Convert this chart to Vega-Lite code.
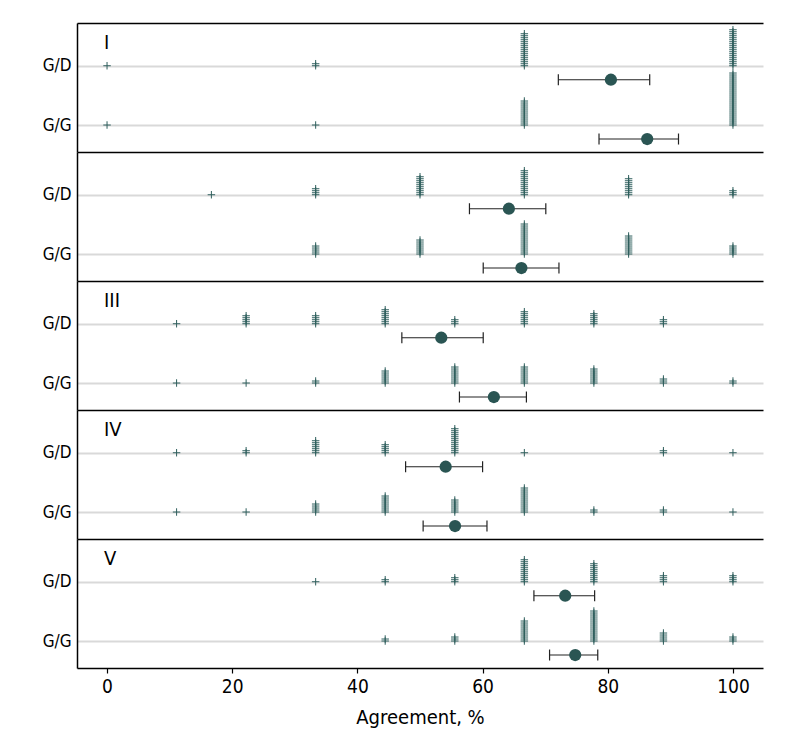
{
"$schema":"https://vega.github.io/schema/vega-lite/v6.json",
"padding":{"left":5,"top":23,"right":5,"bottom":5},
"spacing":0,
"config":{"view":{"stroke":null},"font":"DejaVu Sans Condensed"},
"datasets":{
"obs":[
{"panel":"I","rater":"G/D","agr":0},
{"panel":"I","rater":"G/D","agr":33.33},{"panel":"I","rater":"G/D","agr":33.33},
{"panel":"I","rater":"G/D","agr":66.67},{"panel":"I","rater":"G/D","agr":66.67},{"panel":"I","rater":"G/D","agr":66.67},{"panel":"I","rater":"G/D","agr":66.67},{"panel":"I","rater":"G/D","agr":66.67},{"panel":"I","rater":"G/D","agr":66.67},{"panel":"I","rater":"G/D","agr":66.67},{"panel":"I","rater":"G/D","agr":66.67},{"panel":"I","rater":"G/D","agr":66.67},{"panel":"I","rater":"G/D","agr":66.67},{"panel":"I","rater":"G/D","agr":66.67},{"panel":"I","rater":"G/D","agr":66.67},{"panel":"I","rater":"G/D","agr":66.67},{"panel":"I","rater":"G/D","agr":66.67},{"panel":"I","rater":"G/D","agr":66.67},{"panel":"I","rater":"G/D","agr":66.67},{"panel":"I","rater":"G/D","agr":66.67},
{"panel":"I","rater":"G/D","agr":100},{"panel":"I","rater":"G/D","agr":100},{"panel":"I","rater":"G/D","agr":100},{"panel":"I","rater":"G/D","agr":100},{"panel":"I","rater":"G/D","agr":100},{"panel":"I","rater":"G/D","agr":100},{"panel":"I","rater":"G/D","agr":100},{"panel":"I","rater":"G/D","agr":100},{"panel":"I","rater":"G/D","agr":100},{"panel":"I","rater":"G/D","agr":100},{"panel":"I","rater":"G/D","agr":100},{"panel":"I","rater":"G/D","agr":100},{"panel":"I","rater":"G/D","agr":100},{"panel":"I","rater":"G/D","agr":100},{"panel":"I","rater":"G/D","agr":100},{"panel":"I","rater":"G/D","agr":100},{"panel":"I","rater":"G/D","agr":100},{"panel":"I","rater":"G/D","agr":100},{"panel":"I","rater":"G/D","agr":100},
{"panel":"I","rater":"G/G","agr":0},
{"panel":"I","rater":"G/G","agr":33.33},
{"panel":"I","rater":"G/G","agr":66.67},{"panel":"I","rater":"G/G","agr":66.67},{"panel":"I","rater":"G/G","agr":66.67},{"panel":"I","rater":"G/G","agr":66.67},{"panel":"I","rater":"G/G","agr":66.67},{"panel":"I","rater":"G/G","agr":66.67},{"panel":"I","rater":"G/G","agr":66.67},{"panel":"I","rater":"G/G","agr":66.67},{"panel":"I","rater":"G/G","agr":66.67},{"panel":"I","rater":"G/G","agr":66.67},{"panel":"I","rater":"G/G","agr":66.67},{"panel":"I","rater":"G/G","agr":66.67},{"panel":"I","rater":"G/G","agr":66.67},
{"panel":"I","rater":"G/G","agr":100},{"panel":"I","rater":"G/G","agr":100},{"panel":"I","rater":"G/G","agr":100},{"panel":"I","rater":"G/G","agr":100},{"panel":"I","rater":"G/G","agr":100},{"panel":"I","rater":"G/G","agr":100},{"panel":"I","rater":"G/G","agr":100},{"panel":"I","rater":"G/G","agr":100},{"panel":"I","rater":"G/G","agr":100},{"panel":"I","rater":"G/G","agr":100},{"panel":"I","rater":"G/G","agr":100},{"panel":"I","rater":"G/G","agr":100},{"panel":"I","rater":"G/G","agr":100},{"panel":"I","rater":"G/G","agr":100},{"panel":"I","rater":"G/G","agr":100},{"panel":"I","rater":"G/G","agr":100},{"panel":"I","rater":"G/G","agr":100},{"panel":"I","rater":"G/G","agr":100},{"panel":"I","rater":"G/G","agr":100},{"panel":"I","rater":"G/G","agr":100},{"panel":"I","rater":"G/G","agr":100},{"panel":"I","rater":"G/G","agr":100},{"panel":"I","rater":"G/G","agr":100},{"panel":"I","rater":"G/G","agr":100},{"panel":"I","rater":"G/G","agr":100},{"panel":"I","rater":"G/G","agr":100},{"panel":"I","rater":"G/G","agr":100},

{"panel":"II","rater":"G/D","agr":16.67},
{"panel":"II","rater":"G/D","agr":33.33},{"panel":"II","rater":"G/D","agr":33.33},{"panel":"II","rater":"G/D","agr":33.33},{"panel":"II","rater":"G/D","agr":33.33},
{"panel":"II","rater":"G/D","agr":50},{"panel":"II","rater":"G/D","agr":50},{"panel":"II","rater":"G/D","agr":50},{"panel":"II","rater":"G/D","agr":50},{"panel":"II","rater":"G/D","agr":50},{"panel":"II","rater":"G/D","agr":50},{"panel":"II","rater":"G/D","agr":50},{"panel":"II","rater":"G/D","agr":50},{"panel":"II","rater":"G/D","agr":50},{"panel":"II","rater":"G/D","agr":50},
{"panel":"II","rater":"G/D","agr":66.67},{"panel":"II","rater":"G/D","agr":66.67},{"panel":"II","rater":"G/D","agr":66.67},{"panel":"II","rater":"G/D","agr":66.67},{"panel":"II","rater":"G/D","agr":66.67},{"panel":"II","rater":"G/D","agr":66.67},{"panel":"II","rater":"G/D","agr":66.67},{"panel":"II","rater":"G/D","agr":66.67},{"panel":"II","rater":"G/D","agr":66.67},{"panel":"II","rater":"G/D","agr":66.67},{"panel":"II","rater":"G/D","agr":66.67},{"panel":"II","rater":"G/D","agr":66.67},{"panel":"II","rater":"G/D","agr":66.67},
{"panel":"II","rater":"G/D","agr":83.33},{"panel":"II","rater":"G/D","agr":83.33},{"panel":"II","rater":"G/D","agr":83.33},{"panel":"II","rater":"G/D","agr":83.33},{"panel":"II","rater":"G/D","agr":83.33},{"panel":"II","rater":"G/D","agr":83.33},{"panel":"II","rater":"G/D","agr":83.33},{"panel":"II","rater":"G/D","agr":83.33},{"panel":"II","rater":"G/D","agr":83.33},
{"panel":"II","rater":"G/D","agr":100},{"panel":"II","rater":"G/D","agr":100},{"panel":"II","rater":"G/D","agr":100},
{"panel":"II","rater":"G/G","agr":33.33},{"panel":"II","rater":"G/G","agr":33.33},{"panel":"II","rater":"G/G","agr":33.33},{"panel":"II","rater":"G/G","agr":33.33},{"panel":"II","rater":"G/G","agr":33.33},
{"panel":"II","rater":"G/G","agr":50},{"panel":"II","rater":"G/G","agr":50},{"panel":"II","rater":"G/G","agr":50},{"panel":"II","rater":"G/G","agr":50},{"panel":"II","rater":"G/G","agr":50},{"panel":"II","rater":"G/G","agr":50},{"panel":"II","rater":"G/G","agr":50},{"panel":"II","rater":"G/G","agr":50},
{"panel":"II","rater":"G/G","agr":66.67},{"panel":"II","rater":"G/G","agr":66.67},{"panel":"II","rater":"G/G","agr":66.67},{"panel":"II","rater":"G/G","agr":66.67},{"panel":"II","rater":"G/G","agr":66.67},{"panel":"II","rater":"G/G","agr":66.67},{"panel":"II","rater":"G/G","agr":66.67},{"panel":"II","rater":"G/G","agr":66.67},{"panel":"II","rater":"G/G","agr":66.67},{"panel":"II","rater":"G/G","agr":66.67},{"panel":"II","rater":"G/G","agr":66.67},{"panel":"II","rater":"G/G","agr":66.67},{"panel":"II","rater":"G/G","agr":66.67},{"panel":"II","rater":"G/G","agr":66.67},{"panel":"II","rater":"G/G","agr":66.67},{"panel":"II","rater":"G/G","agr":66.67},
{"panel":"II","rater":"G/G","agr":83.33},{"panel":"II","rater":"G/G","agr":83.33},{"panel":"II","rater":"G/G","agr":83.33},{"panel":"II","rater":"G/G","agr":83.33},{"panel":"II","rater":"G/G","agr":83.33},{"panel":"II","rater":"G/G","agr":83.33},{"panel":"II","rater":"G/G","agr":83.33},{"panel":"II","rater":"G/G","agr":83.33},{"panel":"II","rater":"G/G","agr":83.33},{"panel":"II","rater":"G/G","agr":83.33},
{"panel":"II","rater":"G/G","agr":100},{"panel":"II","rater":"G/G","agr":100},{"panel":"II","rater":"G/G","agr":100},{"panel":"II","rater":"G/G","agr":100},{"panel":"II","rater":"G/G","agr":100},

{"panel":"III","rater":"G/D","agr":11.11},
{"panel":"III","rater":"G/D","agr":22.22},{"panel":"III","rater":"G/D","agr":22.22},{"panel":"III","rater":"G/D","agr":22.22},{"panel":"III","rater":"G/D","agr":22.22},{"panel":"III","rater":"G/D","agr":22.22},
{"panel":"III","rater":"G/D","agr":33.33},{"panel":"III","rater":"G/D","agr":33.33},{"panel":"III","rater":"G/D","agr":33.33},{"panel":"III","rater":"G/D","agr":33.33},{"panel":"III","rater":"G/D","agr":33.33},
{"panel":"III","rater":"G/D","agr":44.44},{"panel":"III","rater":"G/D","agr":44.44},{"panel":"III","rater":"G/D","agr":44.44},{"panel":"III","rater":"G/D","agr":44.44},{"panel":"III","rater":"G/D","agr":44.44},{"panel":"III","rater":"G/D","agr":44.44},{"panel":"III","rater":"G/D","agr":44.44},{"panel":"III","rater":"G/D","agr":44.44},
{"panel":"III","rater":"G/D","agr":55.56},{"panel":"III","rater":"G/D","agr":55.56},{"panel":"III","rater":"G/D","agr":55.56},
{"panel":"III","rater":"G/D","agr":66.67},{"panel":"III","rater":"G/D","agr":66.67},{"panel":"III","rater":"G/D","agr":66.67},{"panel":"III","rater":"G/D","agr":66.67},{"panel":"III","rater":"G/D","agr":66.67},{"panel":"III","rater":"G/D","agr":66.67},{"panel":"III","rater":"G/D","agr":66.67},
{"panel":"III","rater":"G/D","agr":77.78},{"panel":"III","rater":"G/D","agr":77.78},{"panel":"III","rater":"G/D","agr":77.78},{"panel":"III","rater":"G/D","agr":77.78},{"panel":"III","rater":"G/D","agr":77.78},{"panel":"III","rater":"G/D","agr":77.78},
{"panel":"III","rater":"G/D","agr":88.89},{"panel":"III","rater":"G/D","agr":88.89},{"panel":"III","rater":"G/D","agr":88.89},
{"panel":"III","rater":"G/G","agr":11.11},
{"panel":"III","rater":"G/G","agr":22.22},
{"panel":"III","rater":"G/G","agr":33.33},{"panel":"III","rater":"G/G","agr":33.33},
{"panel":"III","rater":"G/G","agr":44.44},{"panel":"III","rater":"G/G","agr":44.44},{"panel":"III","rater":"G/G","agr":44.44},{"panel":"III","rater":"G/G","agr":44.44},{"panel":"III","rater":"G/G","agr":44.44},{"panel":"III","rater":"G/G","agr":44.44},{"panel":"III","rater":"G/G","agr":44.44},
{"panel":"III","rater":"G/G","agr":55.56},{"panel":"III","rater":"G/G","agr":55.56},{"panel":"III","rater":"G/G","agr":55.56},{"panel":"III","rater":"G/G","agr":55.56},{"panel":"III","rater":"G/G","agr":55.56},{"panel":"III","rater":"G/G","agr":55.56},{"panel":"III","rater":"G/G","agr":55.56},{"panel":"III","rater":"G/G","agr":55.56},{"panel":"III","rater":"G/G","agr":55.56},
{"panel":"III","rater":"G/G","agr":66.67},{"panel":"III","rater":"G/G","agr":66.67},{"panel":"III","rater":"G/G","agr":66.67},{"panel":"III","rater":"G/G","agr":66.67},{"panel":"III","rater":"G/G","agr":66.67},{"panel":"III","rater":"G/G","agr":66.67},{"panel":"III","rater":"G/G","agr":66.67},{"panel":"III","rater":"G/G","agr":66.67},{"panel":"III","rater":"G/G","agr":66.67},
{"panel":"III","rater":"G/G","agr":77.78},{"panel":"III","rater":"G/G","agr":77.78},{"panel":"III","rater":"G/G","agr":77.78},{"panel":"III","rater":"G/G","agr":77.78},{"panel":"III","rater":"G/G","agr":77.78},{"panel":"III","rater":"G/G","agr":77.78},{"panel":"III","rater":"G/G","agr":77.78},{"panel":"III","rater":"G/G","agr":77.78},
{"panel":"III","rater":"G/G","agr":88.89},{"panel":"III","rater":"G/G","agr":88.89},{"panel":"III","rater":"G/G","agr":88.89},
{"panel":"III","rater":"G/G","agr":100},{"panel":"III","rater":"G/G","agr":100},

{"panel":"IV","rater":"G/D","agr":11.11},
{"panel":"IV","rater":"G/D","agr":22.22},{"panel":"IV","rater":"G/D","agr":22.22},
{"panel":"IV","rater":"G/D","agr":33.33},{"panel":"IV","rater":"G/D","agr":33.33},{"panel":"IV","rater":"G/D","agr":33.33},{"panel":"IV","rater":"G/D","agr":33.33},{"panel":"IV","rater":"G/D","agr":33.33},{"panel":"IV","rater":"G/D","agr":33.33},{"panel":"IV","rater":"G/D","agr":33.33},
{"panel":"IV","rater":"G/D","agr":44.44},{"panel":"IV","rater":"G/D","agr":44.44},{"panel":"IV","rater":"G/D","agr":44.44},{"panel":"IV","rater":"G/D","agr":44.44},{"panel":"IV","rater":"G/D","agr":44.44},
{"panel":"IV","rater":"G/D","agr":55.56},{"panel":"IV","rater":"G/D","agr":55.56},{"panel":"IV","rater":"G/D","agr":55.56},{"panel":"IV","rater":"G/D","agr":55.56},{"panel":"IV","rater":"G/D","agr":55.56},{"panel":"IV","rater":"G/D","agr":55.56},{"panel":"IV","rater":"G/D","agr":55.56},{"panel":"IV","rater":"G/D","agr":55.56},{"panel":"IV","rater":"G/D","agr":55.56},{"panel":"IV","rater":"G/D","agr":55.56},{"panel":"IV","rater":"G/D","agr":55.56},{"panel":"IV","rater":"G/D","agr":55.56},{"panel":"IV","rater":"G/D","agr":55.56},
{"panel":"IV","rater":"G/D","agr":66.67},
{"panel":"IV","rater":"G/D","agr":88.89},{"panel":"IV","rater":"G/D","agr":88.89},
{"panel":"IV","rater":"G/D","agr":100},
{"panel":"IV","rater":"G/G","agr":11.11},
{"panel":"IV","rater":"G/G","agr":22.22},
{"panel":"IV","rater":"G/G","agr":33.33},{"panel":"IV","rater":"G/G","agr":33.33},{"panel":"IV","rater":"G/G","agr":33.33},{"panel":"IV","rater":"G/G","agr":33.33},{"panel":"IV","rater":"G/G","agr":33.33},
{"panel":"IV","rater":"G/G","agr":44.44},{"panel":"IV","rater":"G/G","agr":44.44},{"panel":"IV","rater":"G/G","agr":44.44},{"panel":"IV","rater":"G/G","agr":44.44},{"panel":"IV","rater":"G/G","agr":44.44},{"panel":"IV","rater":"G/G","agr":44.44},{"panel":"IV","rater":"G/G","agr":44.44},{"panel":"IV","rater":"G/G","agr":44.44},{"panel":"IV","rater":"G/G","agr":44.44},
{"panel":"IV","rater":"G/G","agr":55.56},{"panel":"IV","rater":"G/G","agr":55.56},{"panel":"IV","rater":"G/G","agr":55.56},{"panel":"IV","rater":"G/G","agr":55.56},{"panel":"IV","rater":"G/G","agr":55.56},{"panel":"IV","rater":"G/G","agr":55.56},{"panel":"IV","rater":"G/G","agr":55.56},
{"panel":"IV","rater":"G/G","agr":66.67},{"panel":"IV","rater":"G/G","agr":66.67},{"panel":"IV","rater":"G/G","agr":66.67},{"panel":"IV","rater":"G/G","agr":66.67},{"panel":"IV","rater":"G/G","agr":66.67},{"panel":"IV","rater":"G/G","agr":66.67},{"panel":"IV","rater":"G/G","agr":66.67},{"panel":"IV","rater":"G/G","agr":66.67},{"panel":"IV","rater":"G/G","agr":66.67},{"panel":"IV","rater":"G/G","agr":66.67},{"panel":"IV","rater":"G/G","agr":66.67},{"panel":"IV","rater":"G/G","agr":66.67},{"panel":"IV","rater":"G/G","agr":66.67},
{"panel":"IV","rater":"G/G","agr":77.78},{"panel":"IV","rater":"G/G","agr":77.78},
{"panel":"IV","rater":"G/G","agr":88.89},{"panel":"IV","rater":"G/G","agr":88.89},
{"panel":"IV","rater":"G/G","agr":100},

{"panel":"V","rater":"G/D","agr":33.33},
{"panel":"V","rater":"G/D","agr":44.44},{"panel":"V","rater":"G/D","agr":44.44},
{"panel":"V","rater":"G/D","agr":55.56},{"panel":"V","rater":"G/D","agr":55.56},{"panel":"V","rater":"G/D","agr":55.56},
{"panel":"V","rater":"G/D","agr":66.67},{"panel":"V","rater":"G/D","agr":66.67},{"panel":"V","rater":"G/D","agr":66.67},{"panel":"V","rater":"G/D","agr":66.67},{"panel":"V","rater":"G/D","agr":66.67},{"panel":"V","rater":"G/D","agr":66.67},{"panel":"V","rater":"G/D","agr":66.67},{"panel":"V","rater":"G/D","agr":66.67},{"panel":"V","rater":"G/D","agr":66.67},{"panel":"V","rater":"G/D","agr":66.67},{"panel":"V","rater":"G/D","agr":66.67},{"panel":"V","rater":"G/D","agr":66.67},
{"panel":"V","rater":"G/D","agr":77.78},{"panel":"V","rater":"G/D","agr":77.78},{"panel":"V","rater":"G/D","agr":77.78},{"panel":"V","rater":"G/D","agr":77.78},{"panel":"V","rater":"G/D","agr":77.78},{"panel":"V","rater":"G/D","agr":77.78},{"panel":"V","rater":"G/D","agr":77.78},{"panel":"V","rater":"G/D","agr":77.78},{"panel":"V","rater":"G/D","agr":77.78},{"panel":"V","rater":"G/D","agr":77.78},
{"panel":"V","rater":"G/D","agr":88.89},{"panel":"V","rater":"G/D","agr":88.89},{"panel":"V","rater":"G/D","agr":88.89},{"panel":"V","rater":"G/D","agr":88.89},
{"panel":"V","rater":"G/D","agr":100},{"panel":"V","rater":"G/D","agr":100},{"panel":"V","rater":"G/D","agr":100},{"panel":"V","rater":"G/D","agr":100},
{"panel":"V","rater":"G/G","agr":44.44},{"panel":"V","rater":"G/G","agr":44.44},
{"panel":"V","rater":"G/G","agr":55.56},{"panel":"V","rater":"G/G","agr":55.56},{"panel":"V","rater":"G/G","agr":55.56},
{"panel":"V","rater":"G/G","agr":66.67},{"panel":"V","rater":"G/G","agr":66.67},{"panel":"V","rater":"G/G","agr":66.67},{"panel":"V","rater":"G/G","agr":66.67},{"panel":"V","rater":"G/G","agr":66.67},{"panel":"V","rater":"G/G","agr":66.67},{"panel":"V","rater":"G/G","agr":66.67},{"panel":"V","rater":"G/G","agr":66.67},{"panel":"V","rater":"G/G","agr":66.67},{"panel":"V","rater":"G/G","agr":66.67},{"panel":"V","rater":"G/G","agr":66.67},
{"panel":"V","rater":"G/G","agr":77.78},{"panel":"V","rater":"G/G","agr":77.78},{"panel":"V","rater":"G/G","agr":77.78},{"panel":"V","rater":"G/G","agr":77.78},{"panel":"V","rater":"G/G","agr":77.78},{"panel":"V","rater":"G/G","agr":77.78},{"panel":"V","rater":"G/G","agr":77.78},{"panel":"V","rater":"G/G","agr":77.78},{"panel":"V","rater":"G/G","agr":77.78},{"panel":"V","rater":"G/G","agr":77.78},{"panel":"V","rater":"G/G","agr":77.78},{"panel":"V","rater":"G/G","agr":77.78},{"panel":"V","rater":"G/G","agr":77.78},{"panel":"V","rater":"G/G","agr":77.78},{"panel":"V","rater":"G/G","agr":77.78},{"panel":"V","rater":"G/G","agr":77.78},
{"panel":"V","rater":"G/G","agr":88.89},{"panel":"V","rater":"G/G","agr":88.89},{"panel":"V","rater":"G/G","agr":88.89},{"panel":"V","rater":"G/G","agr":88.89},{"panel":"V","rater":"G/G","agr":88.89},
{"panel":"V","rater":"G/G","agr":100},{"panel":"V","rater":"G/G","agr":100},{"panel":"V","rater":"G/G","agr":100}
],
"means":[
{"panel":"I","rater":"G/D","mean":80.5,"lo":72.1,"hi":86.7},
{"panel":"I","rater":"G/G","mean":86.3,"lo":78.6,"hi":91.3},
{"panel":"II","rater":"G/D","mean":64.2,"lo":57.9,"hi":70.1},
{"panel":"II","rater":"G/G","mean":66.2,"lo":60.1,"hi":72.2},
{"panel":"III","rater":"G/D","mean":53.4,"lo":47.1,"hi":60.1},
{"panel":"III","rater":"G/G","mean":61.8,"lo":56.3,"hi":67.0},
{"panel":"IV","rater":"G/D","mean":54.1,"lo":47.7,"hi":60.0},
{"panel":"IV","rater":"G/G","mean":55.6,"lo":50.5,"hi":60.7},
{"panel":"V","rater":"G/D","mean":73.2,"lo":68.2,"hi":77.9},
{"panel":"V","rater":"G/G","mean":74.8,"lo":70.7,"hi":78.4}
],
"labels":[
{"panel":"I","rater":"G/D","label":"I"},{"panel":"III","rater":"G/D","label":"III"},{"panel":"IV","rater":"G/D","label":"IV"},{"panel":"V","rater":"G/D","label":"V"}
]
},
"vconcat":[
{"width":686,"height":129,
"encoding":{"y":{"field":"rater","type":"nominal","scale":{"type":"point","domain":["G/D","G/G"],"padding":0.588,"align":0.613},"axis":{"orient":"left","title":null,"ticks":false,"labelFontSize":17,"labelColor":"#000","labelPadding":6,"domainColor":"#000","domainWidth":1.5,"grid":true,"gridColor":"#d9d9d9","gridWidth":2,"minExtent":72,"maxExtent":72}}},
"layer":[
{"data":{"name":"obs"},"transform":[{"filter":"datum.panel==='I'"},{"window":[{"op":"row_number","as":"k"}],"groupby":["rater","agr"]}],
"mark":{"type":"point","shape":"M-1,0H1M0,-1V1","size":56,"filled":false,"color":"#2f5f5d","strokeWidth":1,"opacity":1},
"encoding":{"x":{"field":"agr","type":"quantitative","title":null,"scale":{"domain":[-4.8,104.8],"nice":false,"zero":false},"axis":{"orient":"top","title":null,"labels":false,"ticks":false,"grid":false,"domainColor":"#000","domainWidth":1.5,"minExtent":0,"maxExtent":0}},
"yOffset":{"field":"k","type":"quantitative","scale":{"domain":[1,31],"range":[0,-60]}}}},
{"data":{"name":"means"},"transform":[{"filter":"datum.panel==='I'"}],"mark":{"type":"rule","yOffset":14,"color":"#222","strokeWidth":1.2},"encoding":{"x":{"field":"lo","type":"quantitative","title":null},"x2":{"field":"hi"}}},
{"data":{"name":"means"},"transform":[{"filter":"datum.panel==='I'"}],"mark":{"type":"point","shape":"M0,-1V1","size":121,"filled":false,"yOffset":14,"strokeWidth":1.2,"color":"#222","opacity":1},"encoding":{"x":{"field":"lo","type":"quantitative","title":null}}},
{"data":{"name":"means"},"transform":[{"filter":"datum.panel==='I'"}],"mark":{"type":"point","shape":"M0,-1V1","size":121,"filled":false,"yOffset":14,"strokeWidth":1.2,"color":"#222","opacity":1},"encoding":{"x":{"field":"hi","type":"quantitative","title":null}}},
{"data":{"name":"means"},"transform":[{"filter":"datum.panel==='I'"}],"mark":{"type":"circle","yOffset":14,"size":150,"color":"#2a5553","opacity":1},"encoding":{"x":{"field":"mean","type":"quantitative","title":null}}},
{"data":{"name":"labels"},"transform":[{"filter":"datum.panel==='I'"}],"mark":{"type":"text","align":"left","baseline":"middle","dx":-3,"dy":-23,"fontSize":20,"color":"#000"},"encoding":{"x":{"datum":0,"type":"quantitative","title":null},"text":{"field":"label"}}}
]},
{"width":686,"height":129,
"encoding":{"y":{"field":"rater","type":"nominal","scale":{"type":"point","domain":["G/D","G/G"],"padding":0.588,"align":0.613},"axis":{"orient":"left","title":null,"ticks":false,"labelFontSize":17,"labelColor":"#000","labelPadding":6,"domainColor":"#000","domainWidth":1.5,"grid":true,"gridColor":"#d9d9d9","gridWidth":2,"minExtent":72,"maxExtent":72}}},
"layer":[
{"data":{"name":"obs"},"transform":[{"filter":"datum.panel==='II'"},{"window":[{"op":"row_number","as":"k"}],"groupby":["rater","agr"]}],
"mark":{"type":"point","shape":"M-1,0H1M0,-1V1","size":56,"filled":false,"color":"#2f5f5d","strokeWidth":1,"opacity":1},
"encoding":{"x":{"field":"agr","type":"quantitative","title":null,"scale":{"domain":[-4.8,104.8],"nice":false,"zero":false},"axis":{"orient":"top","title":null,"labels":false,"ticks":false,"grid":false,"domainColor":"#000","domainWidth":1.5,"minExtent":0,"maxExtent":0}},
"yOffset":{"field":"k","type":"quantitative","scale":{"domain":[1,31],"range":[0,-60]}}}},
{"data":{"name":"means"},"transform":[{"filter":"datum.panel==='II'"}],"mark":{"type":"rule","yOffset":14,"color":"#222","strokeWidth":1.2},"encoding":{"x":{"field":"lo","type":"quantitative","title":null},"x2":{"field":"hi"}}},
{"data":{"name":"means"},"transform":[{"filter":"datum.panel==='II'"}],"mark":{"type":"point","shape":"M0,-1V1","size":121,"filled":false,"yOffset":14,"strokeWidth":1.2,"color":"#222","opacity":1},"encoding":{"x":{"field":"lo","type":"quantitative","title":null}}},
{"data":{"name":"means"},"transform":[{"filter":"datum.panel==='II'"}],"mark":{"type":"point","shape":"M0,-1V1","size":121,"filled":false,"yOffset":14,"strokeWidth":1.2,"color":"#222","opacity":1},"encoding":{"x":{"field":"hi","type":"quantitative","title":null}}},
{"data":{"name":"means"},"transform":[{"filter":"datum.panel==='II'"}],"mark":{"type":"circle","yOffset":14,"size":150,"color":"#2a5553","opacity":1},"encoding":{"x":{"field":"mean","type":"quantitative","title":null}}}
]},
{"width":686,"height":129,
"encoding":{"y":{"field":"rater","type":"nominal","scale":{"type":"point","domain":["G/D","G/G"],"padding":0.588,"align":0.613},"axis":{"orient":"left","title":null,"ticks":false,"labelFontSize":17,"labelColor":"#000","labelPadding":6,"domainColor":"#000","domainWidth":1.5,"grid":true,"gridColor":"#d9d9d9","gridWidth":2,"minExtent":72,"maxExtent":72}}},
"layer":[
{"data":{"name":"obs"},"transform":[{"filter":"datum.panel==='III'"},{"window":[{"op":"row_number","as":"k"}],"groupby":["rater","agr"]}],
"mark":{"type":"point","shape":"M-1,0H1M0,-1V1","size":56,"filled":false,"color":"#2f5f5d","strokeWidth":1,"opacity":1},
"encoding":{"x":{"field":"agr","type":"quantitative","title":null,"scale":{"domain":[-4.8,104.8],"nice":false,"zero":false},"axis":{"orient":"top","title":null,"labels":false,"ticks":false,"grid":false,"domainColor":"#000","domainWidth":1.5,"minExtent":0,"maxExtent":0}},
"yOffset":{"field":"k","type":"quantitative","scale":{"domain":[1,31],"range":[0,-60]}}}},
{"data":{"name":"means"},"transform":[{"filter":"datum.panel==='III'"}],"mark":{"type":"rule","yOffset":14,"color":"#222","strokeWidth":1.2},"encoding":{"x":{"field":"lo","type":"quantitative","title":null},"x2":{"field":"hi"}}},
{"data":{"name":"means"},"transform":[{"filter":"datum.panel==='III'"}],"mark":{"type":"point","shape":"M0,-1V1","size":121,"filled":false,"yOffset":14,"strokeWidth":1.2,"color":"#222","opacity":1},"encoding":{"x":{"field":"lo","type":"quantitative","title":null}}},
{"data":{"name":"means"},"transform":[{"filter":"datum.panel==='III'"}],"mark":{"type":"point","shape":"M0,-1V1","size":121,"filled":false,"yOffset":14,"strokeWidth":1.2,"color":"#222","opacity":1},"encoding":{"x":{"field":"hi","type":"quantitative","title":null}}},
{"data":{"name":"means"},"transform":[{"filter":"datum.panel==='III'"}],"mark":{"type":"circle","yOffset":14,"size":150,"color":"#2a5553","opacity":1},"encoding":{"x":{"field":"mean","type":"quantitative","title":null}}},
{"data":{"name":"labels"},"transform":[{"filter":"datum.panel==='III'"}],"mark":{"type":"text","align":"left","baseline":"middle","dx":-3,"dy":-23,"fontSize":20,"color":"#000"},"encoding":{"x":{"datum":0,"type":"quantitative","title":null},"text":{"field":"label"}}}
]},
{"width":686,"height":129,
"encoding":{"y":{"field":"rater","type":"nominal","scale":{"type":"point","domain":["G/D","G/G"],"padding":0.588,"align":0.613},"axis":{"orient":"left","title":null,"ticks":false,"labelFontSize":17,"labelColor":"#000","labelPadding":6,"domainColor":"#000","domainWidth":1.5,"grid":true,"gridColor":"#d9d9d9","gridWidth":2,"minExtent":72,"maxExtent":72}}},
"layer":[
{"data":{"name":"obs"},"transform":[{"filter":"datum.panel==='IV'"},{"window":[{"op":"row_number","as":"k"}],"groupby":["rater","agr"]}],
"mark":{"type":"point","shape":"M-1,0H1M0,-1V1","size":56,"filled":false,"color":"#2f5f5d","strokeWidth":1,"opacity":1},
"encoding":{"x":{"field":"agr","type":"quantitative","title":null,"scale":{"domain":[-4.8,104.8],"nice":false,"zero":false},"axis":{"orient":"top","title":null,"labels":false,"ticks":false,"grid":false,"domainColor":"#000","domainWidth":1.5,"minExtent":0,"maxExtent":0}},
"yOffset":{"field":"k","type":"quantitative","scale":{"domain":[1,31],"range":[0,-60]}}}},
{"data":{"name":"means"},"transform":[{"filter":"datum.panel==='IV'"}],"mark":{"type":"rule","yOffset":14,"color":"#222","strokeWidth":1.2},"encoding":{"x":{"field":"lo","type":"quantitative","title":null},"x2":{"field":"hi"}}},
{"data":{"name":"means"},"transform":[{"filter":"datum.panel==='IV'"}],"mark":{"type":"point","shape":"M0,-1V1","size":121,"filled":false,"yOffset":14,"strokeWidth":1.2,"color":"#222","opacity":1},"encoding":{"x":{"field":"lo","type":"quantitative","title":null}}},
{"data":{"name":"means"},"transform":[{"filter":"datum.panel==='IV'"}],"mark":{"type":"point","shape":"M0,-1V1","size":121,"filled":false,"yOffset":14,"strokeWidth":1.2,"color":"#222","opacity":1},"encoding":{"x":{"field":"hi","type":"quantitative","title":null}}},
{"data":{"name":"means"},"transform":[{"filter":"datum.panel==='IV'"}],"mark":{"type":"circle","yOffset":14,"size":150,"color":"#2a5553","opacity":1},"encoding":{"x":{"field":"mean","type":"quantitative","title":null}}},
{"data":{"name":"labels"},"transform":[{"filter":"datum.panel==='IV'"}],"mark":{"type":"text","align":"left","baseline":"middle","dx":-3,"dy":-23,"fontSize":20,"color":"#000"},"encoding":{"x":{"datum":0,"type":"quantitative","title":null},"text":{"field":"label"}}}
]},
{"width":686,"height":129,"resolve":{"axis":{"x":"independent"}},
"encoding":{"y":{"field":"rater","type":"nominal","scale":{"type":"point","domain":["G/D","G/G"],"padding":0.588,"align":0.613},"axis":{"orient":"left","title":null,"ticks":false,"labelFontSize":17,"labelColor":"#000","labelPadding":6,"domainColor":"#000","domainWidth":1.5,"grid":true,"gridColor":"#d9d9d9","gridWidth":2,"minExtent":72,"maxExtent":72}}},
"layer":[
{"data":{"name":"obs"},"transform":[{"filter":"datum.panel==='V'"},{"window":[{"op":"row_number","as":"k"}],"groupby":["rater","agr"]}],
"mark":{"type":"point","shape":"M-1,0H1M0,-1V1","size":56,"filled":false,"color":"#2f5f5d","strokeWidth":1,"opacity":1},
"encoding":{"x":{"field":"agr","type":"quantitative","scale":{"domain":[-4.8,104.8],"nice":false,"zero":false},"axis":{"orient":"bottom","title":"Agreement, %","titleFontSize":20,"titleFontWeight":"normal","titleColor":"#000","titlePadding":11,"labelFontSize":19,"labelColor":"#000","labelPadding":4,"tickColor":"#000","tickSize":5,"tickWidth":1.2,"values":[0,20,40,60,80,100],"grid":false,"domainColor":"#000","domainWidth":1.5,"labelFlush":false}},
"yOffset":{"field":"k","type":"quantitative","scale":{"domain":[1,31],"range":[0,-60]}}}},
{"data":{"name":"means"},"transform":[{"filter":"datum.panel==='V'"}],"mark":{"type":"rule","yOffset":14,"color":"#222","strokeWidth":1.2},"encoding":{"x":{"field":"lo","type":"quantitative","axis":null},"x2":{"field":"hi"}}},
{"data":{"name":"means"},"transform":[{"filter":"datum.panel==='V'"}],"mark":{"type":"point","shape":"M0,-1V1","size":121,"filled":false,"yOffset":14,"strokeWidth":1.2,"color":"#222","opacity":1},"encoding":{"x":{"field":"lo","type":"quantitative","axis":null}}},
{"data":{"name":"means"},"transform":[{"filter":"datum.panel==='V'"}],"mark":{"type":"point","shape":"M0,-1V1","size":121,"filled":false,"yOffset":14,"strokeWidth":1.2,"color":"#222","opacity":1},"encoding":{"x":{"field":"hi","type":"quantitative","axis":null}}},
{"data":{"name":"means"},"transform":[{"filter":"datum.panel==='V'"}],"mark":{"type":"circle","yOffset":14,"size":150,"color":"#2a5553","opacity":1},"encoding":{"x":{"field":"mean","type":"quantitative","axis":{"orient":"top","title":null,"labels":false,"ticks":false,"grid":false,"domainColor":"#000","domainWidth":1.5,"minExtent":0,"maxExtent":0}}}},
{"data":{"name":"labels"},"transform":[{"filter":"datum.panel==='V'"}],"mark":{"type":"text","align":"left","baseline":"middle","dx":-3,"dy":-23,"fontSize":20,"color":"#000"},"encoding":{"x":{"datum":0,"type":"quantitative","axis":null},"text":{"field":"label"}}}
]}
]
}
